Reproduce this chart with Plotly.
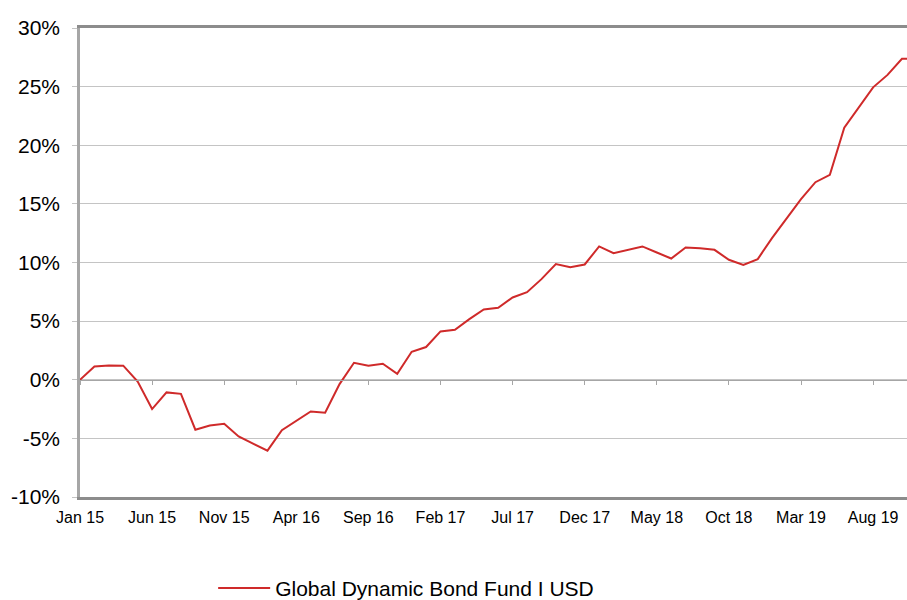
import plotly.graph_objects as go
import pandas as pd

months = list(pd.date_range("2015-01-01", periods=59, freq="MS").strftime("%b %y"))
fund_returns = [
    0.0, 1.13, 1.22, 1.2, -0.15, -2.5, -1.08, -1.2, -4.26, -3.9,
    -3.75, -4.83, -5.45, -6.05, -4.3, -3.47, -2.7, -2.82, -0.37, 1.45,
    1.19, 1.36, 0.51, 2.39, 2.79, 4.12, 4.26, 5.17, 6.0, 6.14,
    7.02, 7.47, 8.58, 9.86, 9.6, 9.83, 11.37, 10.8, 11.1, 11.37,
    10.85, 10.34, 11.28, 11.22, 11.08, 10.23, 9.8, 10.29, 12.1, 13.8,
    15.4, 16.85, 17.48, 21.5, 23.2, 24.94, 26.0, 27.37, 27.4,
]
series_name = "Global Dynamic Bond Fund I USD"
tick_labels = months[::5]
y_ticks = [-10, -5, 0, 5, 10, 15, 20, 25, 30]
y_tick_text = [f"{v}%" for v in y_ticks]

fig = go.Figure()
fig.add_trace(go.Scatter(
    x=months, y=fund_returns, mode="lines", name=series_name,
    line=dict(color="#cf2a2a", width=2),
))
# invisible trace to carry the secondary x-axis (tick marks on the 0% line)
fig.add_trace(go.Scatter(x=months, y=fund_returns, xaxis="x2", mode="lines",
                         line=dict(width=0), showlegend=False, hoverinfo="skip"))

xr = [0, 57.35]
fig.update_layout(
    width=907, height=600,
    margin=dict(l=80, r=0, t=28, b=103, autoexpand=False),
    plot_bgcolor="white", paper_bgcolor="white",
    font=dict(family="Liberation Sans, Arial, sans-serif", color="black"),
    xaxis=dict(
        type="category", range=xr, automargin=False,
        tickmode="array", tickvals=tick_labels, ticktext=tick_labels,
        showgrid=False, showline=True, linecolor="#8c8c8c", linewidth=2.5,
        mirror=True, ticks="", tickfont=dict(size=16),
        ticklabelstandoff=4, zeroline=False,
    ),
    xaxis2=dict(
        type="category", range=xr, overlaying="x", anchor="free", position=0.25,
        tickmode="array", tickvals=tick_labels, showticklabels=False,
        showgrid=False, showline=True, linecolor="#a6a6a6", linewidth=1,
        ticks="outside", ticklen=4, tickcolor="#a6a6a6", tickwidth=1,
        side="bottom", automargin=False,
    ),
    yaxis=dict(
        range=[-10, 30], tickvals=y_ticks, ticktext=y_tick_text, automargin=False,
        showgrid=True, gridcolor="#c4c4c4", gridwidth=1,
        showline=True, linecolor="#a6a6a6", linewidth=2.5,
        ticks="outside", ticklen=5, tickcolor="#c4c4c4",
        tickfont=dict(size=21), zeroline=False,
        ticklabelstandoff=8,
    ),
    showlegend=True,
    legend=dict(
        orientation="h", x=0.161, xanchor="left", y=-0.151, yanchor="top",
        font=dict(size=21), itemwidth=52, bgcolor="rgba(0,0,0,0)",
    ),
)
fig.write_html(
    "out.html",
    config={"displayModeBar": False},
    post_script="document.body.style.margin='0';document.body.style.overflow='hidden';",
)
